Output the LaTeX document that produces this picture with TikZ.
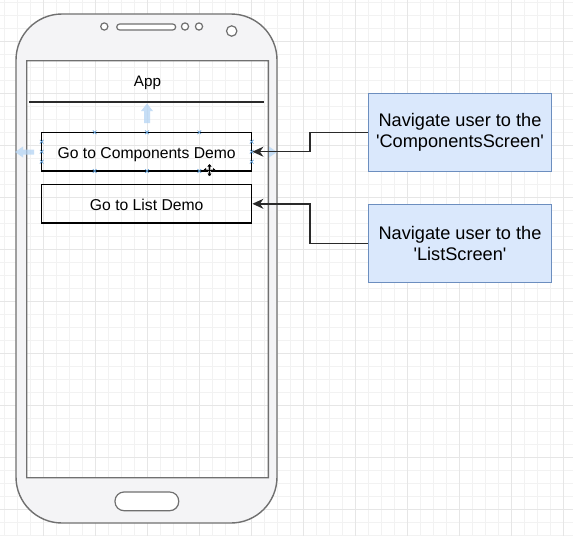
\documentclass[tikz,border=0pt]{standalone}
\usepackage{fontspec}
\setmainfont{Liberation Sans}
\usetikzlibrary{arrows.meta}
\definecolor{gridminor}{HTML}{F2F2F2}
\definecolor{gridmajor}{HTML}{E6E6E6}
\definecolor{bodyfill}{HTML}{F4F4F6}
\definecolor{bodyline}{HTML}{707070}
\definecolor{navfill}{HTML}{DAE8FC}
\definecolor{navline}{HTML}{6C8EBF}
\definecolor{handle}{HTML}{B4D4F4}
\definecolor{xmarkc}{HTML}{5B9BD5}
\definecolor{connc}{HTML}{2A2A2A}
\begin{document}
\begin{tikzpicture}[x=1pt,y=-1pt,
  minorline/.style={draw=gridminor,line width=0.8pt},
  majorline/.style={draw=gridmajor,line width=0.8pt},
  phonebody/.style={fill=bodyfill,draw=bodyline,line width=1.4pt,even odd rule},
  phonepart/.style={draw=bodyline,line width=1.2pt,fill=white},
  header/.style={draw=connc,line width=1.6pt},
  apptext/.style={font=\fontsize{15.2}{18}\selectfont,inner sep=0pt},
  btn/.style={draw=black,line width=1.4pt,minimum width=210pt,minimum height=38.7pt,inner sep=0pt,text height=14pt,text depth=0.8pt,font=\fontsize{15.7}{18}\selectfont},
  nav/.style={draw=navline,fill=navfill,line width=1.3pt,minimum width=183.4pt,minimum height=78pt,inner sep=0pt,align=center,font=\fontsize{18.2}{20.9}\selectfont},
  conn/.style={draw=connc,line width=1.4pt,-{Stealth[length=11pt,width=10pt,inset=3.5pt]}},
  handlearrow/.style={fill=handle,opacity=0.75},
  xmark/.style={draw=xmarkc,line width=0.7pt}
]
\useasboundingbox (0,0) rectangle (573,536);
\fill[white] (0,0) rectangle (573,536);
% grid
\foreach \i in {0,...,43} {\draw[minorline] ({4.3+13*\i},0) -- ({4.3+13*\i},536);}
\foreach \j in {0,...,41} {\draw[minorline] (0,{2.3+13*\j}) -- (573,{2.3+13*\j});}
\foreach \i in {0,...,10} {\draw[majorline] ({43.3+52*\i},0) -- ({43.3+52*\i},536);}
\foreach \j in {0,...,9} {\draw[majorline] (0,{41.3+52*\j}) -- (573,{41.3+52*\j});}
% phone body with transparent screen
\path[phonebody] [rounded corners=46pt] (16,14) rectangle (277,523)
  [sharp corners] (26.7,60.7) rectangle (268.3,477.7);
% speaker, sensors, camera, home button
\draw[phonepart,rounded corners=3pt] (116.7,24) rectangle (175.7,30);
\draw[phonepart] (104.3,26.5) circle[radius=3.6];
\draw[phonepart] (185,26.5) circle[radius=3.6];
\draw[phonepart] (199,26.5) circle[radius=3.6];
\draw[phonepart] (231.7,31) circle[radius=5.2];
\draw[phonepart,rounded corners=9pt] (115,492) rectangle (178.7,510.7);
% header
\node[apptext] (app) at (147.5,83) {App};
\coordinate (hl) at (29.3,102);
\coordinate (hr) at (264.3,102);
\draw[header] (hl) -- (hr);
% selection handles (arrows)
\fill[handlearrow] (147,103.5) -- (153,111) -- (150,111) -- (150,123) -- (144,123) -- (144,111) -- (141,111) -- cycle;
\fill[handlearrow] (15,152) -- (23,146.5) -- (23,149.5) -- (34,149.5) -- (34,154.5) -- (23,154.5) -- (23,157.5) -- cycle;
\fill[handlearrow] (277,152) -- (269,146.5) -- (269,157.5) -- cycle;
% buttons
\node[btn] (btn1) at (146.7,151.7) {Go to Components Demo};
\node[btn] (btn2) at (146.7,203.8) {Go to List Demo};
% connection point markers
\foreach \p in {(94.7,132.3),(147,132.3),(199.3,132.3),(94.7,171),(147,171),(199.3,171),
                (41.7,141.7),(41.7,151.7),(41.7,161.7),(251.7,141.7),(251.7,151.7),(251.7,161.7)}
  {\draw[xmark] \p ++(-1.8,-1.8) -- ++(3.6,3.6) ++(0,-3.6) -- ++(-3.6,3.6);}
% navigation notes
\node[nav] (nav1) at (460,132.2) {Navigate user to the\\\textquotesingle ComponentsScreen\textquotesingle};
\node[nav] (nav2) at (460,243.2) {Navigate user to the\\\textquotesingle ListScreen\textquotesingle};
% connectors
\coordinate (bend) at (310,0);
\draw[conn] (nav1.west) -- (bend |- nav1.west) |- (btn1.east);
\draw[conn] (nav2.west) -- (bend |- nav2.west) |- (btn2.east);
% move cursor
\coordinate (cur) at (209.5,170);
\draw[gray!60,line width=2.4pt] ([xshift=-5.5pt]cur) -- ([xshift=5.5pt]cur) ([yshift=-5.5pt]cur) -- ([yshift=5.5pt]cur);
\draw[black,line width=1pt,{Triangle[length=2.5pt,width=4pt]}-{Triangle[length=2.5pt,width=4pt]}] ([xshift=-6pt]cur) -- ([xshift=6pt]cur);
\draw[black,line width=1pt,{Triangle[length=2.5pt,width=4pt]}-{Triangle[length=2.5pt,width=4pt]}] ([yshift=-6pt]cur) -- ([yshift=6pt]cur);
\end{tikzpicture}
\end{document}
